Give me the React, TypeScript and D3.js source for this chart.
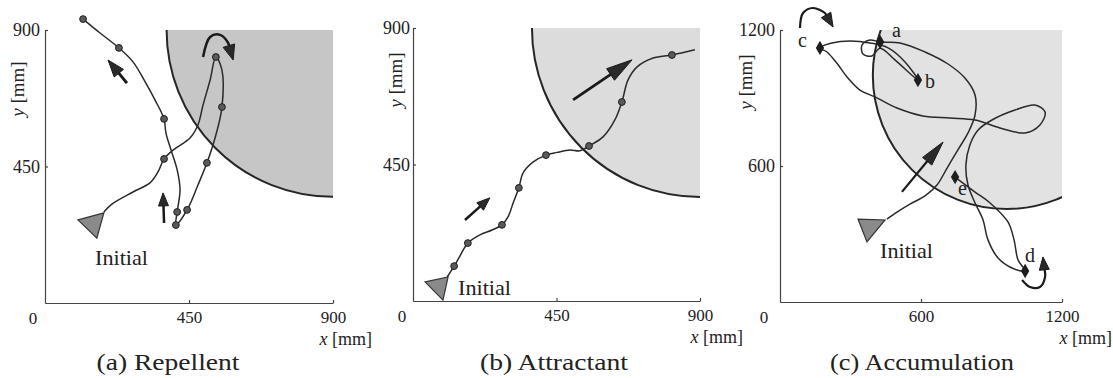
import React, { useEffect, useRef } from 'react';
import * as d3 from 'd3';

type Pt = [number, number];

// (a) Repellent, values in mm
const repellentPath: Pt[] = [
  [184, 300], [209, 326], [275, 366], [328, 396], [353, 432], [372, 475], [400, 504],
  [453, 544], [478, 587], [494, 653], [516, 735], [534, 811], [553, 768],
  [553, 646], [534, 554], [506, 462], [478, 389], [444, 307], [409, 257], [413, 300],
  [422, 373], [413, 439], [394, 504], [378, 560], [372, 607], [344, 669], [313, 729],
  [275, 795], [231, 841], [172, 890], [119, 936],
];
const repellentDots: Pt[] = [
  [372, 475], [534, 811], [553, 646], [506, 462], [444, 307], [409, 257], [413, 300],
  [372, 607], [231, 841], [119, 936],
];
const repellentStart: Pt[] = [[103, 274], [184, 297], [162, 214]];
const repellentArrows: Pt[][] = [
  [[256, 725], [197, 801]],
  [[372, 264], [369, 363]],
  [[494, 811], [516, 877], [547, 884], [572, 858], [588, 801]],
];
const repellentZone = [900, 900, 520, 550]; // cx, cy, rx, ry
const repellentTicks = [450, 900];

// (b) Attractant
const attractantPath: Pt[] = [
  [107, 79], [129, 115], [147, 148], [172, 191], [210, 218], [248, 234], [279, 251],
  [298, 277], [314, 323], [332, 373], [345, 422], [376, 458], [417, 481], [452, 490],
  [492, 498], [524, 495], [552, 511], [596, 541], [633, 597], [655, 656], [674, 728],
  [702, 771], [753, 801], [812, 811], [884, 828],
];
const attractantDots: Pt[] = [
  [129, 115], [172, 191], [279, 251], [332, 373], [417, 481], [552, 511], [655, 656], [812, 811],
];
const attractantStart: Pt[] = [[38, 63], [110, 79], [94, 3]];
const attractantArrows: Pt[][] = [
  [[163, 267], [241, 340]],
  [[502, 663], [687, 795]],
];
const attractantZone = [900, 900, 527, 557];
const attractantTicks = [450, 900];

// (c) Accumulation
const accumulationPath: Pt[] = [
  [455, 366], [498, 397], [553, 432], [617, 468], [668, 516], [711, 591], [757, 671],
  [800, 746], [830, 825], [830, 913], [787, 988], [715, 1050], [617, 1103], [511, 1143],
  [426, 1147], [383, 1156], [349, 1134], [353, 1094], [391, 1085], [426, 1120],
  [489, 1068], [587, 979], [532, 1059], [460, 1121], [383, 1143], [298, 1152],
  [221, 1143], [170, 1121], [200, 1103], [238, 1059], [289, 988], [340, 935], [404, 905],
  [498, 856], [608, 821], [723, 812], [830, 803], [936, 768], [1043, 746], [1106, 781],
  [1128, 838], [1085, 869], [1000, 847], [902, 803], [843, 759], [808, 693], [791, 604],
  [800, 516], [830, 437], [864, 362], [885, 274], [928, 194], [987, 150], [1043, 137],
  [1013, 185], [996, 274], [970, 353], [894, 437], [830, 485], [745, 551],
];
const accumulationMarks: Pt[] = [[426, 1147], [587, 979], [170, 1121], [1043, 137], [745, 551]];
const accumulationLabels = ['a', 'b', 'c', 'd', 'e'];
const accumulationStart: Pt[] = [[332, 366], [447, 362], [370, 265]];
const accumulationArrows: Pt[][] = [
  [[519, 486], [694, 706]],
  [[85, 1209], [98, 1275], [140, 1297], [191, 1275], [226, 1213]],
  [[1030, 97], [1064, 66], [1106, 66], [1128, 110], [1119, 199]],
];
const accumulationZone = [965, 1000, 570, 590];
const accumulationTicks = [600, 1200];

const SERIF = '"Liberation Serif", "Times New Roman", Times, serif';
const INK = '#222';

const panels = [
  {
    title: '(a) Repellent', titleX: 168, titleLen: 143, max: 900, ticks: repellentTicks,
    xr: [45, 333], yr: [303, 30], zone: repellentZone, shade: '#c6c6c6',
    path: repellentPath, dots: repellentDots, marks: [] as Pt[], start: repellentStart,
    arrows: repellentArrows, heads: [[17, 12, 3], [13, 10, 2.5], [15, 12, 2.5]],
    initial: [95, 265], zeroX: 33, yLab: [18, 89], xLabEnd: 372, yPad: 5,
  },
  {
    title: '(b) Attractant', titleX: 554, titleLen: 148, max: 900, ticks: attractantTicks,
    xr: [413, 700], yr: [301, 28], zone: attractantZone, shade: '#dcdcdc',
    path: attractantPath, dots: attractantDots, marks: [] as Pt[], start: attractantStart,
    arrows: attractantArrows, heads: [[13, 10, 2.5], [26, 14, 2.8]],
    initial: [458, 295], zeroX: 402, yLab: [396, 80], xLabEnd: 743, yPad: 3,
  },
  {
    title: '(c) Accumulation', titleX: 922, titleLen: 184, max: 1200, ticks: accumulationTicks,
    xr: [780, 1062], yr: [302, 30], zone: accumulationZone, shade: '#e2e2e2',
    path: accumulationPath, dots: [] as Pt[], marks: accumulationMarks, start: accumulationStart,
    arrows: accumulationArrows, heads: [[25, 12, 2.2], [14, 11, 2.2], [13, 10, 2.2]],
    initial: [880, 258], zeroX: 764, yLab: [746, 82], xLabEnd: 1112, yPad: 5,
  },
];

// label offsets (px) from the marker for a..e
const markOffsets: Pt[] = [[12, -5], [7, 8], [-22, -1], [0, -9], [3, 18]];

export default function App() {
  const ref = useRef<SVGSVGElement | null>(null);

  useEffect(() => {
    const svg = d3.select(ref.current);
    svg.selectAll('*').remove();
    svg.append('rect').attr('width', 1113).attr('height', 378).attr('fill', '#fff');

    panels.forEach((p, pi) => {
      const x = d3.scaleLinear().domain([0, p.max]).range(p.xr);
      const y = d3.scaleLinear().domain([0, p.max]).range(p.yr);
      const g = svg.append('g');

      // shaded zone, clipped to plot area
      const clipId = 'clip' + pi;
      svg.append('clipPath').attr('id', clipId).append('rect')
        .attr('x', x(0)).attr('y', y(p.max))
        .attr('width', x(p.max) - x(0)).attr('height', y(0) - y(p.max));
      const [cx, cy, rx, ry] = p.zone;
      g.append('ellipse')
        .attr('clip-path', `url(#${clipId})`)
        .attr('cx', x(cx)).attr('cy', y(cy))
        .attr('rx', x(cx + rx) - x(cx)).attr('ry', y(cy) - y(cy + ry))
        .attr('fill', p.shade).attr('stroke', '#262626').attr('stroke-width', 2);

      // axes
      const fmt = d3.format('d');
      const xa = g.append('g').attr('transform', `translate(0,${y(0)})`)
        .call(d3.axisBottom(x).tickValues(p.ticks).tickFormat(d => fmt(d as number))
          .tickSizeInner(-3).tickSizeOuter(0).tickPadding(8));
      const ya = g.append('g').attr('transform', `translate(${x(0)},0)`)
        .call(d3.axisLeft(y).tickValues(p.ticks).tickFormat(d => fmt(d as number))
          .tickSizeInner(-3).tickSizeOuter(0).tickPadding(p.yPad));
      [xa, ya].forEach(a => {
        a.attr('font-family', null).attr('font-size', null);
        a.selectAll('path, line').attr('stroke', '#444').attr('stroke-width', 1.2);
        a.selectAll('text').style('font-family', SERIF).style('font-size', '18px').attr('fill', INK);
      });
      xa.selectAll('text').style('font-size', '17px');
      g.append('text').attr('x', p.zeroX).attr('y', y(0) + 21)
        .attr('text-anchor', 'middle').style('font-family', SERIF).style('font-size', '17px')
        .attr('fill', INK).text('0');

      // axis titles
      const xl = g.append('text').attr('x', p.xLabEnd).attr('y', y(0) + 42)
        .attr('text-anchor', 'end').style('font-family', SERIF).style('font-size', '18px').attr('fill', INK);
      xl.append('tspan').attr('font-style', 'italic').text('x');
      xl.append('tspan').text(' [mm]');
      const yl = g.append('text')
        .attr('transform', `translate(${p.yLab[0] + 6},${p.yLab[1]}) rotate(-90)`)
        .attr('text-anchor', 'middle').style('font-family', SERIF).style('font-size', '19px').attr('fill', INK);
      yl.append('tspan').attr('font-style', 'italic').text('y');
      yl.append('tspan').text(' [mm]');

      // panel caption
      g.append('text').attr('x', p.titleX).attr('y', 370).attr('text-anchor', 'middle')
        .style('font-family', SERIF).style('font-size', '23px').attr('fill', INK)
        .attr('textLength', p.titleLen).attr('lengthAdjust', 'spacingAndGlyphs')
        .text(p.title);

      // trajectory
      const line = d3.line<Pt>().x(d => x(d[0])).y(d => y(d[1])).curve(d3.curveCatmullRom.alpha(0.5));
      g.append('path').attr('d', line(p.path)).attr('fill', 'none')
        .attr('stroke', '#2a2a2a').attr('stroke-width', 1.5);

      // initial position
      g.append('path')
        .attr('d', 'M' + p.start.map(d => `${x(d[0])},${y(d[1])}`).join('L') + 'Z')
        .attr('fill', '#8a8a8a').attr('stroke', '#333').attr('stroke-width', 1.2);
      g.append('text').attr('x', p.initial[0]).attr('y', p.initial[1])
        .style('font-family', SERIF).style('font-size', '22px').attr('fill', INK)
        .attr('textLength', 53).attr('lengthAdjust', 'spacingAndGlyphs').text('Initial');

      // sample dots
      g.selectAll('circle.dot').data(p.dots).enter().append('circle')
        .attr('class', 'dot').attr('cx', d => x(d[0])).attr('cy', d => y(d[1])).attr('r', 3.4)
        .attr('fill', '#5a5a5a').attr('stroke', '#1e1e1e').attr('stroke-width', 1);

      // labelled markers
      p.marks.forEach((d, i) => {
        g.append('path').attr('transform', `translate(${x(d[0])},${y(d[1])})`)
          .attr('d', d3.symbol(d3.symbolDiamond, 60)()).attr('fill', '#1e1e1e');
        g.append('text').attr('x', x(d[0]) + markOffsets[i][0]).attr('y', y(d[1]) + markOffsets[i][1])
          .style('font-family', SERIF).style('font-size', '20px').attr('fill', INK)
          .text(accumulationLabels[i]);
      });

      // arrows
      p.arrows.forEach((a, i) => {
        const [len, w, sw] = p.heads[i];
        const px: Pt[] = a.map(d => [x(d[0]), y(d[1])]);
        const tip = px[px.length - 1];
        const prev = px[px.length - 2];
        const dx = tip[0] - prev[0], dy = tip[1] - prev[1];
        const n = Math.hypot(dx, dy) || 1;
        const ux = dx / n, uy = dy / n;
        const base: Pt = [tip[0] - ux * len, tip[1] - uy * len];
        const shaft: Pt[] = [...px.slice(0, -1), [base[0] + ux * 2, base[1] + uy * 2]];
        const sl = d3.line<Pt>().curve(d3.curveCatmullRom.alpha(0.5));
        g.append('path').attr('d', sl(shaft))
          .attr('fill', 'none').attr('stroke', '#1a1a1a').attr('stroke-width', sw);
        const px2 = -uy * w / 2, py2 = ux * w / 2;
        g.append('path')
          .attr('d', `M${tip[0]},${tip[1]}L${base[0] + px2},${base[1] + py2}L${base[0] - px2},${base[1] - py2}Z`)
          .attr('fill', '#2a2a2a').attr('stroke', '#1a1a1a').attr('stroke-width', 1);
      });
    });
  }, []);

  return (
    <svg ref={ref} width={1113} height={378}
      style={{ position: 'absolute', left: 0, top: 0, display: 'block' }} />
  );
}
